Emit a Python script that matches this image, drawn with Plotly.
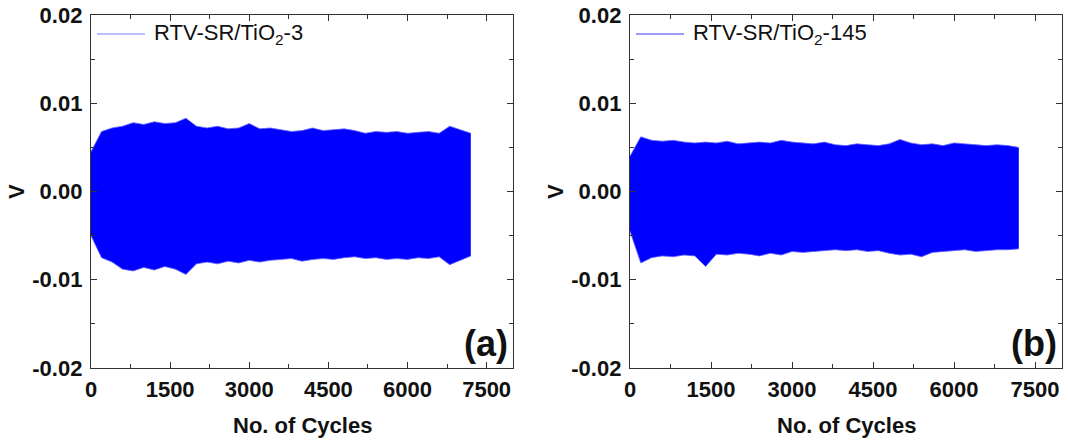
import plotly.graph_objects as go

cycles = [0, 200, 400, 600, 800, 1000, 1200, 1400, 1600, 1800, 2000, 2200, 2400, 2600,
          2800, 3000, 3200, 3400, 3600, 3800, 4000, 4200, 4400, 4600, 4800, 5000, 5200,
          5400, 5600, 5800, 6000, 6200, 6400, 6600, 6800, 7000, 7200]

a_upper = [0.0045, 0.0068, 0.0072, 0.0074, 0.0078, 0.0076, 0.0079, 0.0077, 0.0078, 0.0083,
           0.0074, 0.0072, 0.0074, 0.0071, 0.0072, 0.0077, 0.0071, 0.0072, 0.0070, 0.0068,
           0.0069, 0.0072, 0.0069, 0.0070, 0.0071, 0.0069, 0.0066, 0.0068, 0.0067, 0.0068,
           0.0066, 0.0067, 0.0068, 0.0066, 0.0074, 0.0070, 0.0066]
a_lower = [-0.0050, -0.0075, -0.0080, -0.0088, -0.0090, -0.0086, -0.0089, -0.0085, -0.0088,
           -0.0094, -0.0082, -0.0080, -0.0082, -0.0079, -0.0081, -0.0078, -0.0080, -0.0078,
           -0.0077, -0.0076, -0.0079, -0.0077, -0.0076, -0.0077, -0.0075, -0.0074, -0.0076,
           -0.0075, -0.0077, -0.0076, -0.0077, -0.0075, -0.0076, -0.0074, -0.0083, -0.0078,
           -0.0073]

b_upper = [0.0040, 0.0062, 0.0058, 0.0057, 0.0058, 0.0056, 0.0055, 0.0056, 0.0055, 0.0057,
           0.0054, 0.0055, 0.0056, 0.0055, 0.0058, 0.0056, 0.0055, 0.0054, 0.0056, 0.0053,
           0.0052, 0.0054, 0.0053, 0.0052, 0.0054, 0.0059, 0.0055, 0.0053, 0.0054, 0.0052,
           0.0055, 0.0054, 0.0053, 0.0052, 0.0053, 0.0052, 0.0050]
b_lower = [-0.0045, -0.0081, -0.0075, -0.0073, -0.0074, -0.0072, -0.0073, -0.0085, -0.0071,
           -0.0072, -0.0070, -0.0071, -0.0073, -0.0070, -0.0072, -0.0068, -0.0069, -0.0068,
           -0.0067, -0.0066, -0.0067, -0.0066, -0.0068, -0.0067, -0.0070, -0.0072, -0.0071,
           -0.0074, -0.0069, -0.0068, -0.0067, -0.0066, -0.0068, -0.0067, -0.0066, -0.0066,
           -0.0065]

series_names = ["RTV-SR/TiO<sub>2</sub>-3", "RTV-SR/TiO<sub>2</sub>-145"]
panel_labels = ["(a)", "(b)"]
x_ticks = [0, 1500, 3000, 4500, 6000, 7500]
y_ticks = [-0.02, -0.01, 0.0, 0.01, 0.02]
y_ticktext = ["-0.02", "-0.01", "0.00", "0.01", "0.02"]
x_title = "No. of Cycles"
y_title = "V"

W, H = 1068, 440
BLUE = "#0000FF"
EDGE = "rgba(100,100,255,0.8)"
AXC = "#333333"
TXT = "#111111"
FONT = "Liberation Sans, Arial, sans-serif"
FS = 22

panels = [
    dict(up=a_upper, lo=a_lower, x0=91, x1=513, xa="x", ya="y"),
    dict(up=b_upper, lo=b_lower, x0=630, x1=1062, xa="x2", ya="y2"),
]
top_px, bot_px = 15, 368

fig = go.Figure()
for p in panels:
    fig.add_trace(go.Scatter(x=cycles, y=p["up"], mode="lines", line=dict(color=EDGE, width=1),
                             xaxis=p["xa"], yaxis=p["ya"], showlegend=False, hoverinfo="skip"))
    fig.add_trace(go.Scatter(x=cycles, y=p["lo"], mode="lines", line=dict(color=EDGE, width=1),
                             fill="tonexty", fillcolor=BLUE,
                             xaxis=p["xa"], yaxis=p["ya"], showlegend=False, hoverinfo="skip"))

layout = dict(width=W, height=H, margin=dict(l=0, r=0, t=0, b=0, autoexpand=False),
              paper_bgcolor="white", plot_bgcolor="white", showlegend=False,
              font=dict(family=FONT, color="black"))

axis_common = dict(showline=True, linecolor=AXC, linewidth=1.3, mirror="ticks",
                   ticks="inside", ticklen=6, tickwidth=1.3, tickcolor=AXC,
                   showgrid=False, zeroline=False, automargin=False,
                   tickfont=dict(family=FONT, size=FS, weight="bold", color=TXT))

shapes, annotations = [], []
for i, p in enumerate(panels):
    sfx = "" if i == 0 else "2"
    dom_x = [p["x0"] / W, p["x1"] / W]
    dom_y = [1 - bot_px / H, 1 - top_px / H]
    layout["xaxis" + sfx] = dict(axis_common, domain=dom_x, range=[0, 8000],
                                 tickvals=x_ticks, tickformat="d", ticklabelstandoff=1,
                                 minor=dict(dtick=750, tick0=0, ticks="inside", ticklen=3.5,
                                            tickwidth=1.3, tickcolor=AXC, showgrid=False),
                                 anchor="y" + sfx)
    layout["yaxis" + sfx] = dict(axis_common, domain=dom_y, range=[-0.02, 0.02],
                                 tickvals=y_ticks, ticktext=y_ticktext,
                                 minor=dict(dtick=0.005, tick0=0, ticks="inside", ticklen=3.5,
                                            tickwidth=1.3, tickcolor=AXC, showgrid=False),
                                 anchor="x" + sfx, ticklabelstandoff=3)
    # axis titles
    annotations.append(dict(text="<b>" + x_title + "</b>", xref="paper", yref="paper",
                            x=(p["x0"] + p["x1"]) / 2 / W, y=1 - 425 / H,
                            xanchor="center", yanchor="middle", showarrow=False,
                            font=dict(family=FONT, size=FS, color=TXT)))
    annotations.append(dict(text="<b>" + y_title + "</b>", xref="paper", yref="paper",
                            x=(p["x0"] - 74) / W, y=1 - 192 / H, textangle=-90,
                            xanchor="center", yanchor="middle", showarrow=False,
                            font=dict(family=FONT, size=FS, color=TXT)))
    # legend sample line + text
    lx0 = p["x0"] + 6
    shapes.append(dict(type="line", xref="paper", yref="paper",
                       x0=lx0 / W, x1=(lx0 + 48) / W, y0=1 - 34 / H, y1=1 - 34 / H,
                       line=dict(color="rgba(110,110,255,0.9)" if i == 0 else "#3a3aff", width=1)))
    annotations.append(dict(text=series_names[i], xref="paper", yref="paper",
                            x=(lx0 + 55) / W, y=1 - 34 / H, xanchor="left", yanchor="middle",
                            showarrow=False, font=dict(family=FONT, size=FS, color=TXT)))
    annotations.append(dict(text="<b>" + panel_labels[i] + "</b>", xref="paper", yref="paper",
                            x=(p["x1"] - 3) / W, y=1 - 366 / H, xanchor="right", yanchor="bottom",
                            showarrow=False, font=dict(family=FONT, size=36, color=TXT)))

layout["shapes"] = shapes
layout["annotations"] = annotations
fig.update_layout(**layout)
fig.write_html("out.html", config={"displayModeBar": False},
               post_script="document.body.style.margin='0';document.body.style.overflow='hidden';")
